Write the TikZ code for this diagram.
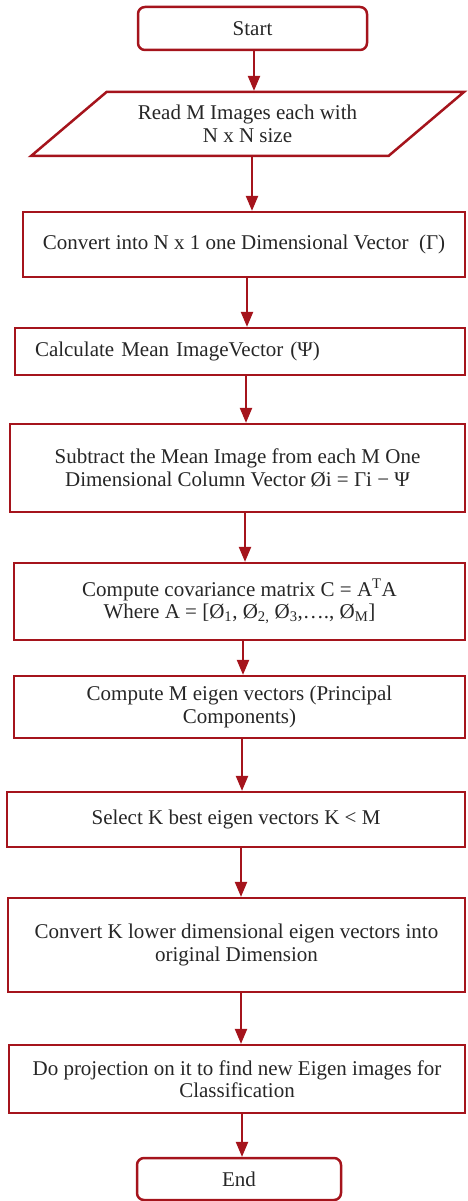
\documentclass[tikz,border=0pt]{standalone}
\usepackage{fontspec}
\setmainfont{Liberation Serif}
\usetikzlibrary{arrows,shapes}
\definecolor{flowred}{RGB}{165,20,28}

\begin{document}
\begin{tikzpicture}[->,>=triangle 45,x=1pt,y=-1pt,line width=2.5pt,
                    every node/.style={font=\fontsize{21}{22.5}\selectfont,text=black!85},
                    term/.style={rectangle,rounded corners=7pt,draw=flowred},
                    io/.style={trapezium,trapezium left angle=36,trapezium right angle=144,
                               trapezium stretches=true,draw=flowred,align=center},
                    proc/.style={rectangle,draw=flowred,align=center}]

  \useasboundingbox (0,0) rectangle (467,1201);

  \node[term,minimum width=229pt,minimum height=43pt] (0) at (252.5,28.5) {Start};
  \node[io,minimum width=435pt,minimum height=64pt]   (1) at (247.5,124)  {Read M Images each with\\N x N size};
  \node[proc,minimum width=442pt,minimum height=65pt] (2) at (244,244.5)  {Convert into N x 1 one Dimensional Vector \ (Γ)};
  \node[proc,align=left,text width=410pt,inner xsep=20pt,minimum height=47pt]
                                                      (3) at (240,351.5)  {Calculate Mean ImageVector (Ψ)};
  \node[proc,minimum width=455pt,minimum height=88pt] (4) at (237.5,468)  {Subtract the Mean Image from each M One\\Dimensional Column Vector Øi = Γi − Ψ};
  \node[proc,minimum width=451pt,minimum height=77pt] (5) at (239.5,601.5)
        {Compute covariance matrix C = A\textsuperscript{T}A\\Where A = [Ø\textsubscript{1}, Ø\textsubscript{2,} Ø\textsubscript{3},…., Ø\textsubscript{M}]};
  \node[proc,minimum width=451pt,minimum height=62pt] (6) at (239.5,707)  {Compute M eigen vectors (Principal\\Components)};
  \node[proc,minimum width=458pt,minimum height=55pt] (7) at (236,819.5)  {Select K best eigen vectors K < M};
  \node[proc,minimum width=457pt,minimum height=94pt] (8) at (236.5,945)  {Convert K lower dimensional eigen vectors into\\original Dimension};
  \node[proc,minimum width=456pt,minimum height=68pt] (9) at (237,1079)   {Do projection on it to find new Eigen images for\\Classification};
  \node[term,minimum width=204pt,minimum height=42pt] (10) at (239,1179)  {End};

  \foreach \a/\b/\x in {0/1/254,1/2/252,2/3/247,3/4/246,4/5/245,5/6/243,6/7/242,7/8/241,8/9/241,9/10/242}
    \draw[flowred] (\x,0 |- \a.south) -- (\x,0 |- \b.north);
\end{tikzpicture}
\end{document}
